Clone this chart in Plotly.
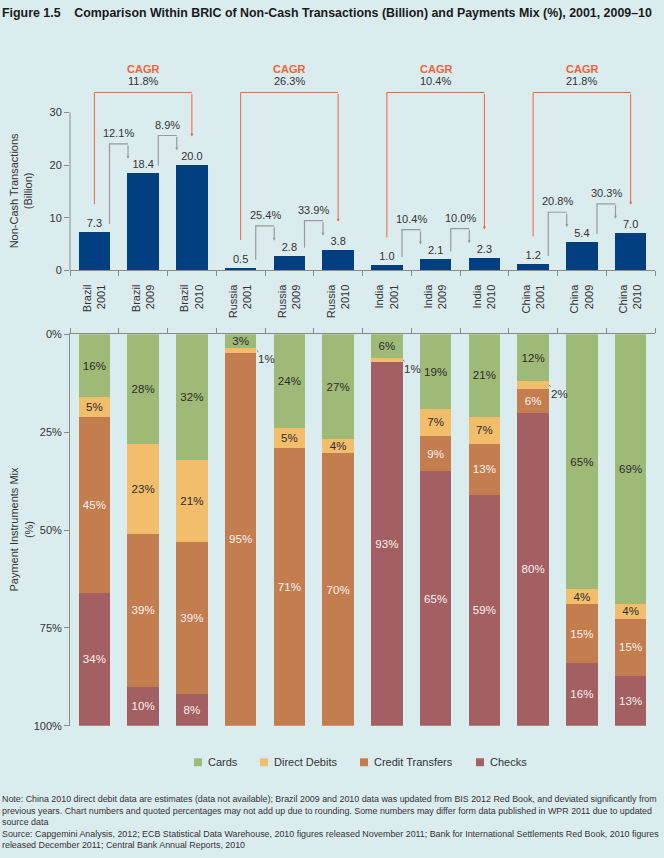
import plotly.graph_objects as go

# ---------------- data ----------------
countries = ["Brazil", "Russia", "India", "China"]
years = ["2001", "2009", "2010"]
transactions = [7.3, 18.4, 20.0, 0.5, 2.8, 3.8, 1.0, 2.1, 2.3, 1.2, 5.4, 7.0]
growth_labels = ["12.1%", "8.9%", "25.4%", "33.9%", "10.4%", "10.0%", "20.8%", "30.3%"]
cagr_labels = ["11.8%", "26.3%", "10.4%", "21.8%"]

cards = [16, 28, 32, 3.4, 24, 26.8, 6, 19, 21, 12, 65, 68.8]
direct_debits = [5, 23, 21, 1.4, 5, 3.6, 1, 7, 7, 2, 4, 3.8]
credit_transfers = [45, 39, 39, 95.2, 71, 69.6, 0, 9, 13, 6, 15, 14.7]
checks = [34, 10, 8, 0, 0, 0, 93, 65, 59, 80, 16, 12.7]

series_names = ["Cards", "Direct Debits", "Credit Transfers", "Checks"]
y_ticks_top = [0, 10, 20, 30]
y_ticks_mix = [0, 25, 50, 75, 100]

title_text = ("Figure 1.5\u00a0\u00a0\u00a0\u00a0Comparison Within BRIC of Non-Cash Transactions "
              "(Billion) and Payments Mix (%), 2001, 2009\u201310")
note_lines = [
    "Note: China 2010 direct debit data are estimates (data not available); Brazil 2009 and 2010 data was updated from BIS 2012 Red Book, and deviated significantly from",
    "previous years. Chart numbers and quoted percentages may not add up due to rounding. Some numbers may differ form data published in WPR 2011 due to updated",
    "source data",
    "Source: Capgemini Analysis, 2012; ECB Statistical Data Warehouse, 2010 figures released November 2011; Bank for International Settlements Red Book, 2010 figures",
    "released December 2011; Central Bank Annual Reports, 2010",
]

# ---------------- styles ----------------
W, H = 664, 858
BG = "#dbecef"
NAVY = "#023f80"
COLORS = ["#9fba77", "#f2be6b", "#c47d4f", "#a35f61"]
LABEL_COLORS = ["#2b2b2b", "#2b2b2b", "#f8f2ee", "#f8f2ee"]
GREY = "#9a9a9a"
AXIS = "#8a8a8a"
ORANGE = "#f0643a"
TXT = "#333333"
FONT = "Liberation Sans"

categories = [f"{c}<br>{y}" for c in countries for y in years]
idx = list(range(len(categories)))

# pixel layout
x_left, x_right = 70, 655
top_y0_px, top_px_per_unit = 268, 160 / 30
top_range = [0, 40]
top_top_px = top_y0_px - top_range[1] * top_px_per_unit
mix_top_px, mix_bot_px = 333, 730
U = 1 / top_px_per_unit  # data units per pixel in top chart


def pyv(px):
    return 1 - px / H


fig = go.Figure()

# top bars
fig.add_trace(go.Bar(
    x=categories, y=transactions, width=0.65, marker=dict(color=NAVY, line=dict(width=0)),
    text=[f"{v:.1f}" for v in transactions], textposition="outside",
    textfont=dict(size=11, color=TXT, family=FONT), cliponaxis=False,
    showlegend=False, xaxis="x", yaxis="y", hoverinfo="skip"))

# stacked mix bars
series = [cards, direct_debits, credit_transfers, checks]
for name, vals, col, lc in zip(series_names, series, COLORS, LABEL_COLORS):
    fig.add_trace(go.Bar(
        x=categories, y=vals, name=name, width=0.65,
        marker=dict(color=col, line=dict(width=0)),
        text=[f"{int(v + 0.5)}%" if v >= 3 else "" for v in vals],
        textposition="inside", insidetextanchor="middle",
        textfont=dict(size=11.5, color=lc, family=FONT),
        showlegend=False, xaxis="x2", yaxis="y2", hoverinfo="skip"))

shapes = []
annotations = []

# y axis line for top chart (0..30 only)
shapes.append(dict(type="line", xref="x domain", yref="y", x0=0, x1=0, y0=0, y1=30,
                   line=dict(color=AXIS, width=1)))

# growth brackets
pairs = [(c * 3 + k, c * 3 + k + 1) for c in range(4) for k in range(2)]
for (i, j), lab in zip(pairs, growth_labels):
    x0 = i + 0.31
    x1 = j - 0.31
    y0 = transactions[i] + 8 * U
    yh = transactions[j] + 30 * U
    ytip = transactions[j] + 15 * U
    shapes.append(dict(type="path", xref="x", yref="y",
                       path=f"M {x0},{y0} L {x0},{yh} L {x1},{yh}",
                       line=dict(color=GREY, width=1.2)))
    annotations.append(dict(x=x1, y=ytip, ax=x1, ay=yh, xref="x", yref="y", axref="x", ayref="y",
                            text="", showarrow=True, arrowhead=2, arrowsize=0.5, arrowwidth=1.2,
                            arrowcolor=GREY, standoff=0))
    annotations.append(dict(x=(i + j) / 2, y=yh + 11 * U, xref="x", yref="y", text=lab,
                            showarrow=False, font=dict(size=11, color=TXT, family=FONT)))

# CAGR brackets
top_level = (top_y0_px - 87.7) * U
for c, lab in enumerate(cagr_labels):
    a, b = 3 * c, 3 * c + 2
    ya = transactions[a] + 28 * U
    ytip = transactions[b] + 29 * U
    shapes.append(dict(type="path", xref="x", yref="y",
                       path=f"M {a},{ya} L {a},{top_level} L {b},{top_level}",
                       line=dict(color=ORANGE, width=1)))
    annotations.append(dict(x=b, y=ytip, ax=b, ay=top_level, xref="x", yref="y", axref="x", ayref="y",
                            text="", showarrow=True, arrowhead=2, arrowsize=0.6, arrowwidth=1,
                            arrowcolor=ORANGE, standoff=0))
    annotations.append(dict(x=a + 1, y=(top_y0_px - 64) * U, xref="x", yref="y", text="<b>CAGR</b>",
                            showarrow=False, font=dict(size=11, color=ORANGE, family=FONT)))
    annotations.append(dict(x=a + 1, y=(top_y0_px - 76) * U, xref="x", yref="y", text=lab,
                            showarrow=False, font=dict(size=11, color=TXT, family=FONT)))

# small segment labels outside bars
for vals_i, vals in enumerate(series):
    base = [sum(series[k][n] for k in range(vals_i)) for n in idx]
    for n in idx:
        v = vals[n]
        if 0 < v < 3:
            annotations.append(dict(x=n + 0.33, y=base[n] + v / 2, xref="x2", yref="y2",
                                    text=f"{int(v + 0.5)}%", showarrow=True, arrowhead=0, arrowwidth=0.8,
                                    arrowcolor="#666", ax=10, ay=9, standoff=0,
                                    font=dict(size=11.5, color=TXT, family=FONT)))

# axis titles
annotations.append(dict(x=21 / W, y=pyv(188), xref="paper", yref="paper", textangle=-90,
                        xanchor="center", yanchor="middle",
                        text="Non-Cash Transactions<br>(Billion)", showarrow=False,
                        font=dict(size=11, color=TXT, family=FONT)))
annotations.append(dict(x=21 / W, y=pyv(531), xref="paper", yref="paper", textangle=-90,
                        xanchor="center", yanchor="middle",
                        text="Payment Instruments Mix<br>(%)", showarrow=False,
                        font=dict(size=11, color=TXT, family=FONT)))

# manual legend
legend_marker_x = [194, 260, 360, 476]
legend_text_x = [206, 272, 372, 488]
legend_y = 767
for name, col, mx, tx in zip(series_names, COLORS, legend_marker_x, legend_text_x):
    shapes.append(dict(type="rect", xref="paper", yref="paper",
                       x0=mx / W, x1=(mx + 8) / W, y0=pyv(legend_y + 4), y1=pyv(legend_y - 4),
                       fillcolor=col, line=dict(width=0)))
    annotations.append(dict(x=tx / W, y=pyv(legend_y), xref="paper", yref="paper",
                            xanchor="left", yanchor="middle", text=name, showarrow=False,
                            font=dict(size=11, color=TXT, family=FONT)))

# title
annotations.append(dict(x=0, y=pyv(7), xref="paper", yref="paper", xanchor="left", yanchor="middle",
                        text=f"<b>{title_text}</b>", showarrow=False,
                        font=dict(size=12.4, color="#1a1a1a", family=FONT)))

# notes
annotations.append(dict(x=0, y=pyv(797), xref="paper", yref="paper", xanchor="left", yanchor="top",
                        text="<br>".join(note_lines), showarrow=False, align="left",
                        font=dict(size=8.9, color=TXT, family=FONT)))

common_x = dict(type="category", range=[-0.5, 11.5], domain=[x_left / W, x_right / W],
                tickson="boundaries", ticks="outside", ticklen=5, tickcolor=AXIS,
                showline=True, linecolor=AXIS, linewidth=1, showgrid=False, zeroline=False,
                fixedrange=True)

fig.update_layout(
    width=W, height=H, autosize=False,
    margin=dict(l=0, r=0, t=0, b=0),
    paper_bgcolor=BG, plot_bgcolor=BG,
    barmode="stack",
    font=dict(family=FONT, size=11, color=TXT),
    uniformtext=dict(minsize=11, mode="show"),
    showlegend=False,
    xaxis=dict(**common_x, anchor="y", tickangle=-90, ticklabelstandoff=9,
               tickfont=dict(size=11, color=TXT, family=FONT)),
    yaxis=dict(domain=[pyv(top_y0_px), pyv(top_top_px)], range=top_range, tickvals=y_ticks_top,
               ticks="outside", ticklen=5, tickcolor=AXIS, showline=False, showgrid=False,
               zeroline=False, tickfont=dict(size=11, color=TXT, family=FONT), anchor="x"),
    xaxis2=dict(**common_x, anchor="y2", side="top", showticklabels=False),
    yaxis2=dict(domain=[pyv(mix_bot_px), pyv(mix_top_px)], range=[100, 0], tickvals=y_ticks_mix,
                ticktext=[f"{t}%" for t in y_ticks_mix], ticks="outside", ticklen=5, tickcolor=AXIS,
                showline=True, linecolor=AXIS, linewidth=1, showgrid=False, zeroline=False,
                tickfont=dict(size=11, color=TXT, family=FONT), anchor="x2"),
    shapes=shapes,
    annotations=annotations,
)

fig.write_html("out.html")
